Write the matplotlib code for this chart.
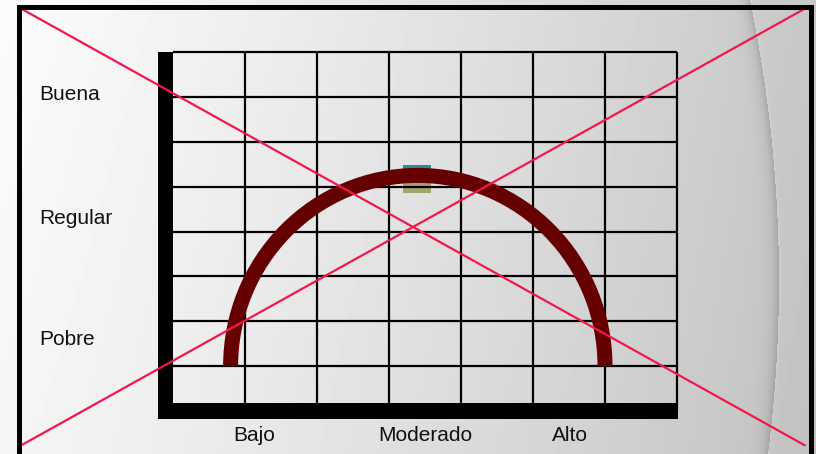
import numpy as np
import matplotlib
matplotlib.use("Agg")
import matplotlib.pyplot as plt
from matplotlib.patches import Rectangle, Arc

# ---------------- data ----------------
x_categories = ["Bajo", "Moderado", "Alto"]          # activation level
x_positions = [1.13, 3.51, 5.52]                      # grid units
y_categories = ["Buena", "Regular", "Pobre"]         # performance
y_positions = [7.09, 4.33, 1.63]                      # grid units
n_cols = 7
n_rows = 8
# inverted-U curve (half ellipse) in grid units
curve_center = (3.40, 1.0)
curve_half_width = 2.60
curve_height = 4.25
# small marker box at the curve's peak (grid units)
marker_x = (3.19, 3.58)
marker_teal_y = (5.26, 5.48)
marker_khaki_y = (4.86, 5.26)

# ---------------- figure ----------------
W, H = 816, 454
plt.rcParams['font.family'] = ['Liberation Sans', 'DejaVu Sans']
fig = plt.figure(figsize=(W / 100, H / 100), dpi=100)


def px_rect(l, t, r, b):
    return [l / W, 1 - b / H, (r - l) / W, (b - t) / H]


# background gradient with curved swoosh
xs = np.arange(W) + 0.5
ys = np.arange(H) + 0.5
X, Y = np.meshgrid(xs, ys)
base = 251 - 52 * (X / W) ** 1.2 - 6 * (Y / H)
cy = np.polyfit([0, 230, 454], [750, 778, 768], 2)
xc = np.polyval(cy, Y)
d = X - xc
shade = np.where(d < 0, 34 * np.exp(d / 6), -8 * np.exp(-d / 1.5))
img = np.clip(base - shade, 0, 255)
bg = fig.add_axes([0, 0, 1, 1])
bg.imshow(img, extent=[0, 1, 0, 1], aspect='auto', cmap='gray', vmin=0, vmax=255,
          interpolation='bilinear')
bg.set_axis_off()

# outer frame
fig.add_artist(Rectangle((19 / W, -0.05), (810.5 - 19) / W, (1 - 7.5 / H) + 0.05,
                         transform=fig.transFigure, fill=False, ec='black', lw=3.6,
                         zorder=1))

# main grid axes
ax = fig.add_axes(px_rect(173, 52, 677, 411))
ax.set_xlim(0, n_cols)
ax.set_ylim(0, n_rows)
ax.patch.set_visible(False)
for s in ax.spines.values():
    s.set_visible(False)

ax.vlines(np.arange(1, n_cols + 1), 0, n_rows, color='black', lw=1.6, clip_on=False, zorder=2)
ax.hlines(np.arange(1, n_rows + 1), 0, n_cols, color='black', lw=1.6, clip_on=False, zorder=2)

px_x = n_cols / (677 - 173)
px_y = n_rows / (411 - 52)
ax.add_patch(Rectangle((-15 * px_x, -8 * px_y), 15 * px_x, n_rows + 8 * px_y,
                       color='black', clip_on=False, zorder=3, lw=0))
ax.add_patch(Rectangle((-15 * px_x, -8 * px_y), n_cols + 16 * px_x, 16 * px_y,
                       color='black', clip_on=False, zorder=3, lw=0))

# marker box
ax.add_patch(Rectangle((marker_x[0], marker_teal_y[0]), marker_x[1] - marker_x[0],
                       marker_teal_y[1] - marker_teal_y[0], color='#2e8c8c', lw=0, zorder=1.5))
ax.add_patch(Rectangle((marker_x[0], marker_khaki_y[0]), marker_x[1] - marker_x[0],
                       marker_khaki_y[1] - marker_khaki_y[0], color='#a3a36e', lw=0, zorder=1.5))

# the curve
ax.add_patch(Arc(curve_center, 2 * curve_half_width, 2 * curve_height, theta1=0, theta2=180,
                 color='#660000', lw=10.8, zorder=4))

# labels
ax.set_xticks(x_positions, x_categories)
ax.set_yticks(y_positions, y_categories)
ax.tick_params(axis='x', length=0, pad=10.5, labelsize=15, labelcolor='#111111')
ax.tick_params(axis='y', length=0, pad=96.0, labelsize=15, labelcolor='#111111')
for lab in ax.get_yticklabels():
    lab.set_horizontalalignment('left')

# red cross
axx = fig.add_axes(px_rect(20, 8, 806, 446))
axx.set_axis_off()
axx.plot([0, 1], [1, 0], transform=axx.transAxes, color='#f0184c', lw=1.6, solid_capstyle='butt')
axx.plot([0, 1], [0, 1], transform=axx.transAxes, color='#f0184c', lw=1.6, solid_capstyle='butt')

fig.savefig('out.png', dpi=100)
